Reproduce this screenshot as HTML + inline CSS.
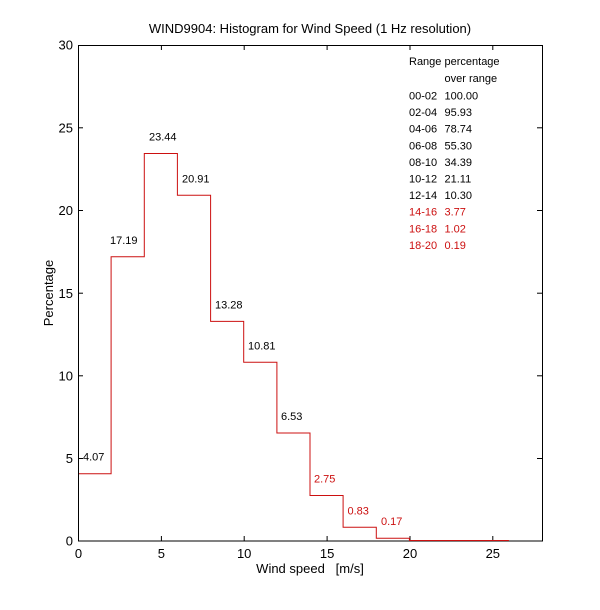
<!DOCTYPE html>
<html><head><meta charset="utf-8"><style>
html,body{margin:0;padding:0;background:#fff;}
svg{display:block;font-family:"Liberation Sans",Arial,sans-serif;}
</style></head><body>
<svg width="600" height="610" viewBox="0 0 600 610" xmlns="http://www.w3.org/2000/svg">
<rect width="600" height="610" fill="#fff"/>
<text x="310" y="33" font-size="13" text-anchor="middle" fill="#000">WIND9904: Histogram for Wind Speed (1 Hz resolution)</text>
<!-- axes box -->
<rect x="78.5" y="45.5" width="464" height="495.5" fill="none" stroke="#000" stroke-width="1"/>
<g stroke="#000" stroke-width="1">
<line x1="161.4" y1="541" x2="161.4" y2="536"/><line x1="244.2" y1="541" x2="244.2" y2="536"/>
<line x1="327.1" y1="541" x2="327.1" y2="536"/><line x1="410" y1="541" x2="410" y2="536"/>
<line x1="492.8" y1="541" x2="492.8" y2="536"/>
<line x1="161.4" y1="45" x2="161.4" y2="50"/><line x1="244.2" y1="45" x2="244.2" y2="50"/>
<line x1="327.1" y1="45" x2="327.1" y2="50"/><line x1="410" y1="45" x2="410" y2="50"/>
<line x1="492.8" y1="45" x2="492.8" y2="50"/>
<line x1="78" y1="458.5" x2="83" y2="458.5"/><line x1="78" y1="375.8" x2="83" y2="375.8"/>
<line x1="78" y1="293.2" x2="83" y2="293.2"/><line x1="78" y1="210.5" x2="83" y2="210.5"/>
<line x1="78" y1="127.8" x2="83" y2="127.8"/>
<line x1="542" y1="458.5" x2="537" y2="458.5"/><line x1="542" y1="375.8" x2="537" y2="375.8"/>
<line x1="542" y1="293.2" x2="537" y2="293.2"/><line x1="542" y1="210.5" x2="537" y2="210.5"/>
<line x1="542" y1="127.8" x2="537" y2="127.8"/>
</g>
<g font-size="13" fill="#000" text-anchor="end">
<text x="73" y="545.5">0</text><text x="73" y="463">5</text><text x="73" y="380.5">10</text>
<text x="73" y="297.8">15</text><text x="73" y="215">20</text><text x="73" y="132.5">25</text>
<text x="73" y="49.7">30</text>
</g>
<g font-size="13" fill="#000" text-anchor="middle">
<text x="78.5" y="558">0</text><text x="161.4" y="558">5</text><text x="244.2" y="558">10</text>
<text x="327.1" y="558">15</text><text x="410" y="558">20</text><text x="492.8" y="558">25</text>
</g>
<text x="310" y="573" font-size="13" text-anchor="middle" xml:space="preserve">Wind speed   [m/s]</text>
<text transform="translate(53,293) rotate(-90)" font-size="13" text-anchor="middle">Percentage</text>
<!-- histogram -->
<path d="M79,473.7 L111.1,473.7 L111.1,256.8 L144.3,256.8 L144.3,153.5 L177.4,153.5 L177.4,195.3 L210.6,195.3 L210.6,321.4 L243.7,321.4 L243.7,362.3 L276.9,362.3 L276.9,433 L310,433 L310,495.5 L343.1,495.5 L343.1,527.3 L376.3,527.3 L376.3,538.2 L409.4,538.2 L409.4,540.5 L508.9,540.5" fill="none" stroke="#cc1010" stroke-width="1"/>
<g font-size="11" fill="#000">
<text x="83" y="460.7">4.07</text>
<text x="110" y="244">17.19</text>
<text x="149" y="140.5">23.44</text>
<text x="182" y="182.5">20.91</text>
<text x="215" y="308.5">13.28</text>
<text x="248" y="349.5">10.81</text>
<text x="281" y="420">6.53</text>
</g>
<g font-size="11" fill="#cc1010">
<text x="314" y="482.5">2.75</text>
<text x="347.5" y="514.5">0.83</text>
<text x="381" y="525">0.17</text>
</g>
<g font-size="11" fill="#000">
<text x="409" y="65">Range</text><text x="444.5" y="65">percentage</text>
<text x="444.5" y="82">over range</text>
<text x="409" y="99.5">00-02</text><text x="444.5" y="99.5">100.00</text>
<text x="409" y="116.1">02-04</text><text x="444.5" y="116.1">95.93</text>
<text x="409" y="132.7">04-06</text><text x="444.5" y="132.7">78.74</text>
<text x="409" y="149.3">06-08</text><text x="444.5" y="149.3">55.30</text>
<text x="409" y="165.9">08-10</text><text x="444.5" y="165.9">34.39</text>
<text x="409" y="182.5">10-12</text><text x="444.5" y="182.5">21.11</text>
<text x="409" y="199.1">12-14</text><text x="444.5" y="199.1">10.30</text>
</g>
<g font-size="11" fill="#cc1010">
<text x="409" y="215.7">14-16</text><text x="444.5" y="215.7">3.77</text>
<text x="409" y="232.3">16-18</text><text x="444.5" y="232.3">1.02</text>
<text x="409" y="248.9">18-20</text><text x="444.5" y="248.9">0.19</text>
</g>
</svg>
</body></html>
